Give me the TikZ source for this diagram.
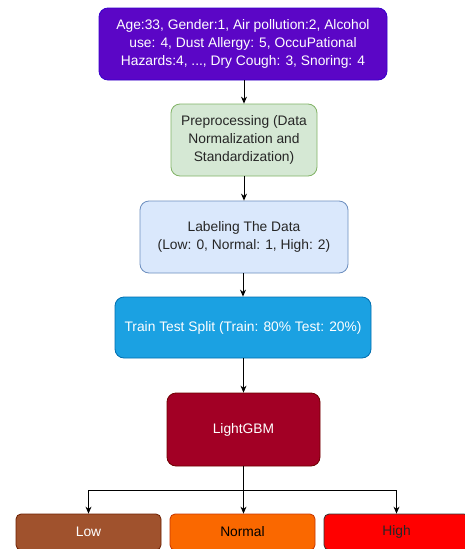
\documentclass[tikz,border=0pt]{standalone}
\usepackage{fontspec}
\setmainfont{Liberation Sans}
\usetikzlibrary{arrows.meta}
\definecolor{cpurple}{HTML}{5B06C6}
\definecolor{cpurpled}{HTML}{3700CC}
\definecolor{cgreen}{HTML}{D5E8D4}
\definecolor{cgreend}{HTML}{82B366}
\definecolor{cblue}{HTML}{DAE8FC}
\definecolor{cblued}{HTML}{6C8EBF}
\definecolor{ccyan}{HTML}{1BA1E2}
\definecolor{ccyand}{HTML}{006EAF}
\definecolor{cwine}{HTML}{A20025}
\definecolor{cwined}{HTML}{6F0000}
\definecolor{cbrown}{HTML}{A0522D}
\definecolor{cbrownd}{HTML}{6D1F00}
\definecolor{corange}{HTML}{FA6800}
\definecolor{corange2}{HTML}{C73500}
\definecolor{cred}{HTML}{FF0000}
\begin{document}
\begin{tikzpicture}[x=1pt,y=-1pt,
  box/.style={draw, rounded corners=9pt, line width=0.8pt, inner sep=0pt, align=center,
    font=\fontsize{13.8}{17.6}\selectfont},
  arr/.style={-{Stealth[length=7pt,width=6pt]}, line width=0.9pt}]
\fill[white] (0,0) rectangle (465,549);
\useasboundingbox (0,0) rectangle (465,549);
\clip (0,0) rectangle (465,549);
\node[box, fill=cpurple, draw=cpurpled, text=white, minimum width=288pt, minimum height=72pt]
  (in) at (243,44) {Age:33, Gender:1, Air pollution:2, Alcohol\\use: 4, Dust Allergy: 5, OccuPational\\Hazards:4, ..., Dry Cough: 3, Snoring: 4};
\node[box, fill=cgreen, draw=cgreend, text=black!85, minimum width=146pt, minimum height=72pt]
  (pre) at (244,140) {Preprocessing (Data\\Normalization and\\Standardization)};
\node[box, fill=cblue, draw=cblued, text=black!85, minimum width=208pt, minimum height=72pt]
  (lab) at (244,237) {Labeling The Data\\(Low: 0, Normal: 1, High: 2)};
\node[box, fill=ccyan, draw=ccyand, text=white, minimum width=256pt, minimum height=61pt]
  (split) at (243,327.5) {Train Test Split (Train: 80\% Test: 20\%)};
\node[box, fill=cwine, draw=cwined, text=white, minimum width=153pt, minimum height=73pt]
  (lgbm) at (243.5,429.5) {LightGBM};
\node[box, rounded corners=5pt, fill=cbrown, draw=cbrownd, text=white, minimum width=145pt, minimum height=36pt]
  (low) at (88.5,532) {Low};
\node[box, rounded corners=5pt, fill=corange, draw=corange2, text=black, minimum width=145pt, minimum height=36pt]
  (normal) at (242.5,532) {Normal};
\node[box, rounded corners=5pt, fill=cred, draw=black!80, text=black!85, minimum width=145pt, minimum height=36pt]
  (high) at (396.5,532) {High};
\draw[arr] (in.south -| pre.north) -- (pre.north);
\draw[arr] (pre) -- (lab);
\draw[arr] (lab.south -| split.north) -- (split.north);
\draw[arr] (split.south -| lgbm.north) -- (lgbm.north);
\coordinate (sp) at (243.5,490);
\draw[line width=0.9pt] (lgbm.south) -- (sp);
\draw[arr] (sp) -| (low.north);
\draw[arr] (sp) -| (high.north);
\draw[arr] (sp) -- (sp |- normal.north);
\end{tikzpicture}
\end{document}
